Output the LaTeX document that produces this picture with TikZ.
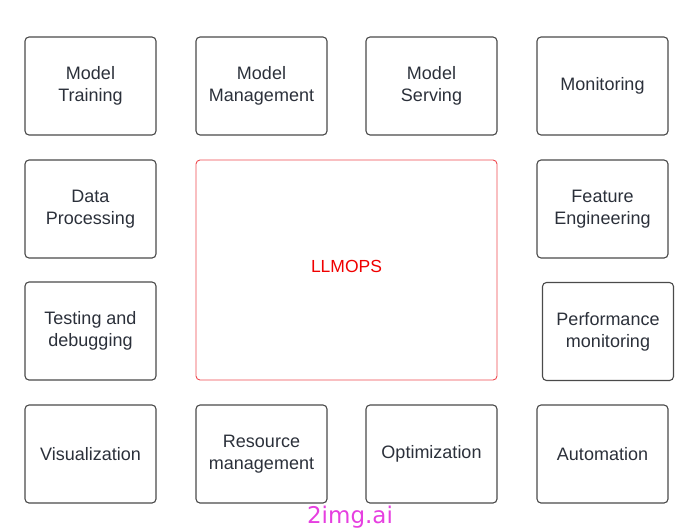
\documentclass[tikz,border=0pt]{standalone}
\usepackage{fontspec}
\setmainfont{Liberation Sans}
\newfontfamily\wmfont{DejaVu Sans}
\definecolor{txt}{HTML}{2B303A}
\definecolor{edge}{HTML}{4A4A4A}
\definecolor{rededge}{HTML}{EE4A50}
\definecolor{redtxt}{HTML}{F00000}
\definecolor{wm}{HTML}{E63FE0}
\begin{document}
\begin{tikzpicture}[x=1pt,y=-1pt,
  card/.style={draw=edge,line width=1.1pt,rounded corners=4pt,minimum width=131pt,minimum height=98pt,
    align=center,text=txt,font=\fontsize{18}{22}\selectfont,inner sep=0pt},
  bigcard/.style={draw=rededge,line width=0.9pt,rounded corners=4pt,minimum width=301pt,minimum height=220pt,
    align=center,text=redtxt,font=\fontsize{17.5}{22}\selectfont,inner sep=0pt}]
\useasboundingbox (0,0) rectangle (700,528);
\node[card] (mt) at (90.5,86) {Model\\Training};
\node[card] (mm) at (261.5,86) {Model\\Management};
\node[card] (ms) at (431.5,86) {Model\\Serving};
\node[card] (mon) at (602.5,86) {Monitoring};
\node[card] (dp) at (90.5,209) {Data\\Processing};
\node[bigcard] (ll) at (346.5,270) {};
\node[text=redtxt,font=\fontsize{17.5}{22}\selectfont,inner sep=0pt] (lltxt) at (346.5,266) {LLMOPS};
\node[card] (fe) at (602.5,209) {Feature\\Engineering};
\node[card] (td) at (90.5,331) {Testing and\\debugging};
\node[card] (pm) at (608,331.5) {Performance\\monitoring};
\node[card] (vis) at (90.5,454) {Visualization};
\node[card] (rm) at (261.5,454) {Resource\\management};
\node[card] (opt) at (431.5,454) {Optimization};
\node[card] (aut) at (602.5,454) {Automation};
\node[text=wm,font=\wmfont\fontsize{23}{26}\selectfont,anchor=base,inner sep=0pt] (wmk) at (350,523) {2img.ai};
\end{tikzpicture}
\end{document}
